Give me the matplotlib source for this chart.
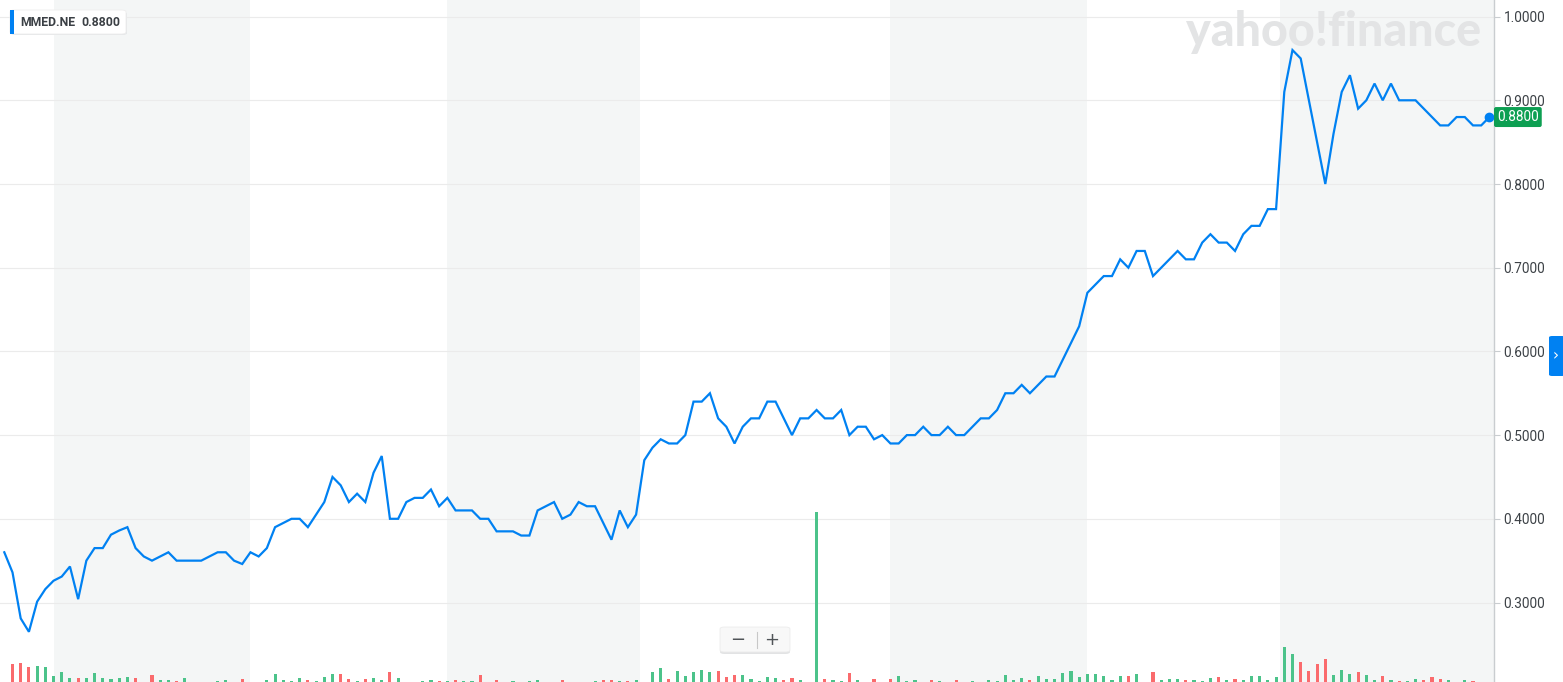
import numpy as np
import matplotlib
matplotlib.use("Agg")
import matplotlib.pyplot as plt
from matplotlib.patches import FancyBboxPatch, Rectangle
import matplotlib.transforms as mtransforms

# ---------------- data ----------------
ticker = "MMED.NE"
last_price = 0.88

close = [
    0.360, 0.336, 0.281, 0.265, 0.301, 0.316, 0.326, 0.331, 0.343, 0.304,
    0.350, 0.365, 0.365, 0.381, 0.386, 0.390, 0.365, 0.355, 0.350, 0.355,
    0.360, 0.350, 0.350, 0.350, 0.350, 0.355, 0.360, 0.360, 0.350, 0.346,
    0.360, 0.355, 0.365, 0.390, 0.395, 0.400, 0.400, 0.390, 0.405, 0.420,
    0.450, 0.440, 0.420, 0.430, 0.420, 0.455, 0.475, 0.400, 0.400, 0.420,
    0.425, 0.425, 0.435, 0.415, 0.425, 0.410, 0.410, 0.410, 0.400, 0.400,
    0.385, 0.385, 0.385, 0.380, 0.380, 0.410, 0.415, 0.420, 0.400, 0.405,
    0.420, 0.415, 0.415, 0.395, 0.375, 0.410, 0.390, 0.405, 0.470, 0.485,
    0.495, 0.490, 0.490, 0.500, 0.540, 0.540, 0.550, 0.520, 0.510, 0.490,
    0.510, 0.520, 0.520, 0.540, 0.540, 0.520, 0.500, 0.520, 0.520, 0.530,
    0.520, 0.520, 0.530, 0.500, 0.510, 0.510, 0.495, 0.500, 0.490, 0.490,
    0.500, 0.500, 0.510, 0.500, 0.500, 0.510, 0.500, 0.500, 0.510, 0.520,
    0.520, 0.530, 0.550, 0.550, 0.560, 0.550, 0.560, 0.570, 0.570, 0.590,
    0.610, 0.630, 0.670, 0.680, 0.690, 0.690, 0.710, 0.700, 0.720, 0.720,
    0.690, 0.700, 0.710, 0.720, 0.710, 0.710, 0.730, 0.740, 0.730, 0.730,
    0.720, 0.740, 0.750, 0.750, 0.770, 0.770, 0.910, 0.960, 0.950, 0.900,
    0.850, 0.800, 0.860, 0.910, 0.930, 0.890, 0.900, 0.920, 0.900, 0.920,
    0.900, 0.900, 0.900, 0.890, 0.880, 0.870, 0.870, 0.880, 0.880, 0.870,
    0.870, 0.880,
]

# volume (thousand shares, estimated)
volume = [
    0, 18.3, 19.3, 15.3, 16.3, 15.3, 6.3, 10.3, 4.3, 4.3,
    4.3, 9.3, 4.3, 3, 4.3, 5.3, 4.3, 0.5, 7.3, 2,
    2, 1, 4.3, 0.5, 0.5, 0.5, 1.3, 2, 0.5, 3.3,
    0.5, 0.5, 2, 8.3, 2, 1.3, 4, 2, 1.3, 5.3,
    8.3, 8.3, 3, 1.3, 3.3, 4.3, 2.3, 10.3, 4.3, 0.5,
    0.5, 1, 2, 1, 1, 2, 1, 1, 7.3, 0.5,
    2, 0.5, 1, 0.5, 1, 2, 0.5, 0.5, 2, 0.5,
    0.5, 0.5, 1, 2, 2, 1, 1, 2, 0.5, 10,
    14, 3, 11, 6, 10, 12, 10, 11, 5, 7,
    7, 3, 1, 5, 4, 2, 4, 2, 0.5, 170,
    3, 2, 1, 9.3, 2, 0.5, 3, 0.5, 3, 6,
    1, 2, 0.5, 2, 1, 0.5, 2, 0.5, 1, 0.5,
    2, 1, 7, 2, 4, 2, 6, 3, 3, 9,
    11, 5, 8, 8, 6, 2, 6, 6, 8, 0.5,
    10, 2, 3, 3, 2, 2, 1, 4, 5, 2,
    3, 2, 6, 6, 2, 5, 35.3, 28, 20, 11,
    18, 23, 7, 12, 8, 10, 7, 2, 6, 2,
    1, 1, 3, 2, 5, 3, 2, 0.5, 2, 1,
    0.5, 0.5,
]

# 1 = up day (green), 0 = down day (red)
vol_up = [
    1, 0, 0, 0, 1, 1, 1, 1, 1, 0,
    1, 1, 1, 1, 1, 1, 0, 1, 0, 1,
    1, 0, 1, 1, 1, 1, 1, 1, 1, 0,
    1, 1, 1, 1, 1, 1, 1, 0, 1, 1,
    1, 0, 0, 1, 0, 1, 1, 0, 1, 1,
    1, 1, 1, 0, 1, 0, 1, 1, 0, 1,
    0, 1, 1, 1, 1, 1, 1, 1, 0, 1,
    1, 1, 1, 0, 0, 1, 0, 1, 1, 1,
    1, 0, 1, 1, 1, 1, 1, 0, 0, 0,
    1, 1, 1, 1, 1, 0, 0, 1, 1, 1,
    0, 1, 1, 0, 1, 1, 0, 1, 0, 1,
    1, 1, 1, 0, 1, 1, 0, 1, 1, 1,
    1, 1, 1, 1, 1, 0, 1, 1, 1, 1,
    1, 1, 1, 1, 1, 1, 1, 0, 1, 1,
    0, 1, 1, 1, 0, 1, 1, 1, 0, 1,
    0, 1, 1, 1, 1, 1, 1, 1, 0, 0,
    0, 0, 1, 1, 1, 0, 1, 1, 0, 1,
    0, 1, 1, 0, 0, 0, 1, 1, 1, 0,
    1, 1,
]

# alternate-month shaded bands (in trading-day index units)
month_bands = [(6.0, 30.0), (54.0, 77.5), (108.0, 132.0), (155.5, 182.0)]
y_ticks = [0.3, 0.4, 0.5, 0.6, 0.7, 0.8, 0.9, 1.0]

# ---------------- figure ----------------
W, H = 1563, 682
fig = plt.figure(figsize=(W / 100, H / 100), dpi=100)
fig.patch.set_facecolor("white")

def fx(px):
    return px / W

def fy(py):
    return 1 - py / H

x = np.arange(len(close))
step = 8.205
x_left = -4.3 / step
x_right = (1494 - 4.3) / step
rect = [0, 0, fx(1494), 1]

BLUE = "#0081f2"
GREEN_V = "#4cc38a"
RED_V = "#fa6b6d"

ylo = 0.9 - (682 - 100.3) / 837
yhi = 1.0 + 16.6 / 837

# price axis (created first so its transform can be used below)
ax = fig.add_axes(rect, zorder=1)
ax.patch.set_visible(False)
ax.set_xlim(x_left, x_right)
ax.set_ylim(ylo, yhi)

# volume / background axis
axv = fig.add_axes(rect, zorder=0)
axv.set_xlim(x_left, x_right)
axv.set_ylim(0, 682)
axv.set_facecolor("white")
for a, b in month_bands:
    axv.axvspan(a, min(b, x_right + 1), color="#f4f6f6", lw=0, zorder=0)
for yt in y_ticks:
    axv.plot([x_left, x_right], [yt, yt], color="#ebebeb", lw=0.8,
             transform=ax.transData, zorder=1)
cols = [GREEN_V if u else RED_V for u in vol_up]
axv.bar(x, volume, width=0.38, color=cols, zorder=2, linewidth=0)
axv.set_xticks([])
axv.set_yticks([])
for s in axv.spines.values():
    s.set_visible(False)

ax.plot(x, close, color=BLUE, lw=1.6, zorder=3, solid_joinstyle="miter")
ax.plot([x[-1]], [close[-1]], "o", color=BLUE, ms=6, zorder=4)

ax.set_xticks([])
ax.yaxis.tick_right()
ax.set_yticks(y_ticks)
ax.set_yticklabels([f"{v:.4f}" for v in y_ticks])
ax.tick_params(axis="y", length=4, width=0.8, color="#c9cdd0", pad=3,
               labelsize=9.8, labelcolor="#3c4146")
for lab in ax.get_yticklabels():
    lab.set_fontfamily("Roboto")
for k, s in ax.spines.items():
    s.set_visible(k == "right")
ax.spines["right"].set_color("#c9cdd0")
ax.spines["right"].set_linewidth(1.0)

# current price tag
trans = mtransforms.blended_transform_factory(ax.transAxes, ax.transData)
ax.text(1.0 + 3 / 1494, last_price, f"{last_price:.4f}", transform=trans,
        ha="left", va="center", color="white", fontsize=9.8, family="Roboto",
        bbox=dict(boxstyle="round,pad=0.22,rounding_size=0.15",
                  fc="#0d9f52", ec="none"), zorder=6, clip_on=False)

# top-left legend box
shadow = FancyBboxPatch((fx(11), fy(35)), fx(116), 23 / H,
                        boxstyle="round,pad=0,rounding_size=0.003",
                        transform=fig.transFigure, fc="#e4e6e8", ec="none",
                        zorder=9)
fig.add_artist(shadow)
box = FancyBboxPatch((fx(10), fy(34)), fx(116), 24 / H,
                     boxstyle="round,pad=0,rounding_size=0.003",
                     transform=fig.transFigure, fc="white", ec="#eeeeee",
                     lw=0.6, zorder=10)
fig.add_artist(box)
fig.add_artist(Rectangle((fx(10), fy(34)), fx(4), 24 / H,
                         transform=fig.transFigure, fc=BLUE, ec="none",
                         zorder=11))
fig.text(fx(20), fy(22), ticker, ha="left", va="center", fontsize=8.8,
         fontweight="bold", family="Roboto", color="#3a3f44", zorder=12)
fig.text(fx(81), fy(22), f"{last_price:.4f}", ha="left", va="center",
         fontsize=8.8, fontweight="bold", family="Roboto", color="#3a3f44",
         zorder=12)

# watermark
fig.text(fx(1481), fy(46), "yahoo!finance", ha="right", va="baseline",
         fontsize=33.5, fontweight="black", family="Lato", color="#e3e4e5",
         zorder=2)

# zoom buttons
fig.add_artist(FancyBboxPatch((fx(720), fy(654)), fx(70), 26 / H,
                              boxstyle="round,pad=0,rounding_size=0.003",
                              transform=fig.transFigure, fc="#e2e3e4",
                              ec="none", zorder=9))
fig.add_artist(FancyBboxPatch((fx(720), fy(652)), fx(70), 25 / H,
                              boxstyle="round,pad=0,rounding_size=0.003",
                              transform=fig.transFigure, fc="#f8f8f8",
                              ec="#ececec", lw=0.6, zorder=10))
fig.text(fx(738), fy(640), "\u2212", ha="center", va="center", fontsize=13,
         color="#505458", zorder=11)
fig.text(fx(772), fy(640), "+", ha="center", va="center", fontsize=13,
         color="#505458", zorder=11)
fig.add_artist(plt.Line2D([fx(756.5), fx(756.5)], [fy(632), fy(648)],
                          transform=fig.transFigure, color="#c8c8c8",
                          lw=0.8, zorder=11))

# right blue tab
fig.add_artist(FancyBboxPatch((fx(1549), fy(376)), fx(16), 40 / H,
                              boxstyle="round,pad=0,rounding_size=0.002",
                              transform=fig.transFigure, fc=BLUE, ec="none",
                              zorder=10))
fig.text(fx(1556), fy(356), "\u203a", ha="center", va="center", fontsize=11,
         color="white", zorder=11)

fig.savefig("out.png", dpi=100, facecolor="white")
